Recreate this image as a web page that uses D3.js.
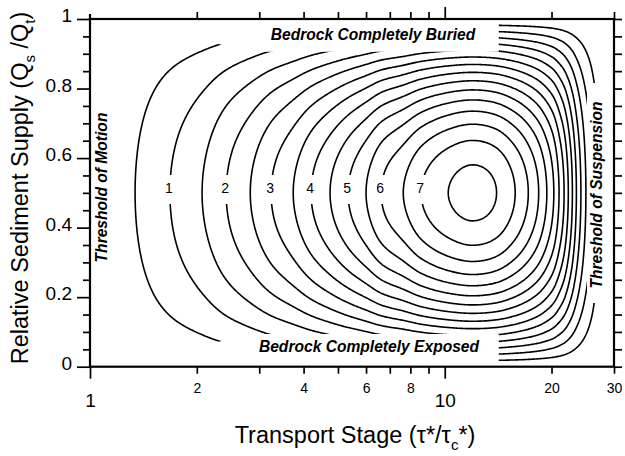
<!DOCTYPE html>
<html>
<head>
<meta charset="utf-8">
<script src="https://cdn.jsdelivr.net/npm/d3@7"></script>
<style>
  html, body { margin: 0; padding: 0; background: #fff; }
  svg { display: block; font-family: "Liberation Sans", Arial, Helvetica, sans-serif; }
</style>
</head>
<body>
<svg id="chart" width="625" height="456"></svg>
<script>
// Erosion-rate contour levels
const contourLevels = [0.5, 1, 1.5, 2, 2.5, 3, 3.5, 4, 4.5, 5, 5.5, 6, 6.5, 7, 7.5];
// Transport stage where each level crosses Qs/Qt = 0.5, below and above the peak
const risingStage  = [1.34, 1.68, 2.07, 2.42, 2.83, 3.24, 3.74, 4.20, 4.75, 5.34, 6.00, 6.62, 7.64, 8.58, 10.23];
const fallingStage = [27.2, 26.0, 25.0, 24.2, 23.5, 22.9, 22.3, 21.7, 21.0, 20.3, 19.4, 18.4, 17.2, 15.8, 14.0];
const labeledLevels = [1, 2, 3, 4, 5, 6, 7];
const thresholdMotion = 1;
const thresholdSuspension = 28.6;
const peakStage = 11.97;
const peakLevel = 7.7;
// Relative erosion factor across sediment supply (bed cover effect)
const supplyKnots = [0, 0.1, 0.2, 0.3, 0.4, 0.5, 0.6, 0.7, 0.8, 0.9, 1];
const coverFactor = [0, 0.36, 0.64, 0.84, 0.96, 1, 0.96, 0.84, 0.64, 0.36, 0];
// Axis ticks
const stageTicks = [1, 2, 3, 4, 5, 6, 7, 8, 9, 10, 20, 30];
const stageMajor = [1, 10];
const stageSmallLabels = [2, 4, 6, 8, 20, 30];
const supplyTicks = [0, 0.05, 0.1, 0.15, 0.2, 0.25, 0.3, 0.35, 0.4, 0.45, 0.5,
                     0.55, 0.6, 0.65, 0.7, 0.75, 0.8, 0.85, 0.9, 0.95, 1];
const supplyLabels = [0, 0.2, 0.4, 0.6, 0.8, 1];

const svg = d3.select("#chart");
const x = d3.scaleLog().domain([1, 30]).range([90, 614]);
const y = d3.scaleLinear().domain([0, 1]).range([366.7, 19]);

// Monotone cubic (Fritsch-Carlson) interpolation through knots
function monotone(xs, ys) {
  const n = xs.length, d = [], m = new Array(n);
  for (let i = 0; i < n - 1; i++) d.push((ys[i + 1] - ys[i]) / (xs[i + 1] - xs[i]));
  m[0] = d[0]; m[n - 1] = d[n - 2];
  for (let i = 1; i < n - 1; i++) m[i] = d[i - 1] * d[i] <= 0 ? 0 : (d[i - 1] + d[i]) / 2;
  for (let i = 0; i < n - 1; i++) {
    if (d[i] === 0) { m[i] = 0; m[i + 1] = 0; continue; }
    const a = m[i] / d[i], b = m[i + 1] / d[i], s = a * a + b * b;
    if (s > 9) { const t = 3 / Math.sqrt(s); m[i] = t * a * d[i]; m[i + 1] = t * b * d[i]; }
  }
  return function (v) {
    if (v <= xs[0]) return ys[0];
    if (v >= xs[n - 1]) return ys[n - 1];
    let i = Math.min(d3.bisectRight(xs, v) - 1, n - 2);
    const h = xs[i + 1] - xs[i], t = (v - xs[i]) / h, t2 = t * t, t3 = t2 * t;
    return (2 * t3 - 3 * t2 + 1) * ys[i] + (t3 - 2 * t2 + t) * h * m[i] +
           (-2 * t3 + 3 * t2) * ys[i + 1] + (t3 - t2) * h * m[i + 1];
  };
}

// Mid-supply erosion profile along log transport stage
const profX = [Math.log10(thresholdMotion)]
  .concat(risingStage.map(Math.log10))
  .concat([Math.log10(peakStage)])
  .concat(fallingStage.slice().reverse().map(Math.log10))
  .concat([Math.log10(thresholdSuspension)]);
const profY = [0].concat(contourLevels).concat([peakLevel])
  .concat(contourLevels.slice().reverse()).concat([0]);
const midProfile = monotone(profX, profY);
const cover = monotone(supplyKnots, coverFactor);

// Field on a regular grid (log stage x supply)
const nx = 480, ny = 320;
const lmin = Math.log10(1), lmax = Math.log10(30);
const values = new Float64Array(nx * ny);
for (let j = 0; j < ny; j++) {
  const c = Math.max(0, cover(j / (ny - 1)));
  for (let i = 0; i < nx; i++) {
    const lt = lmin + (i / (nx - 1)) * (lmax - lmin);
    values[j * nx + i] = Math.max(0, midProfile(lt)) * c;
  }
}
const contours = d3.contours().size([nx, ny]).thresholds(contourLevels)(values);

const toPx = p => [
  x(Math.pow(10, lmin + ((p[0] - 0.5) / (nx - 1)) * (lmax - lmin))),
  y((p[1] - 0.5) / (ny - 1))
];

// Clip region for the computed contours (supply window narrows below stage 14.2)
const splitStage = 14.2;
const lowWindow = [[1, 0.93], [2.3, 0.928], [2.9, 0.906], [splitStage, 0.906]];
const clipPts = lowWindow.map(([t, q]) => [x(t), y(q)])
  .concat([[x(splitStage), y(0.99)], [x(30), y(0.99)], [x(30), y(0.01)], [x(splitStage), y(0.01)]])
  .concat(lowWindow.slice().reverse().map(([t, q]) => [x(t), y(1 - q)]));
svg.append("defs").append("clipPath").attr("id", "field")
  .append("path").attr("d", d3.line()(clipPts) + "Z");

const line = d3.line();
const gC = svg.append("g").attr("clip-path", "url(#field)")
  .attr("fill", "none").attr("stroke", "#000").attr("stroke-width", 1.6)
  .attr("stroke-linejoin", "round");
contours.forEach(cn => {
  cn.coordinates.forEach(poly => {
    poly.forEach(ring => {
      gC.append("path").attr("d", line(ring.map(toPx)) + "Z");
    });
  });
});

// Level labels on the rising side
const labelY = 188;
labeledLevels.forEach(lv => {
  const t = risingStage[contourLevels.indexOf(lv)];
  const cx = x(t) - 1;
  svg.append("rect").attr("x", cx - 6).attr("y", labelY - 13)
    .attr("width", 12).attr("height", 29).attr("fill", "#fff");
  svg.append("text").attr("x", cx).attr("y", labelY + 5)
    .attr("text-anchor", "middle").attr("font-size", 14).text(lv);
});

// Annotations
const ann = { "font-size": 15.6, "font-weight": "bold", "font-style": "italic" };
function annText(sel) {
  Object.entries(ann).forEach(([k, v]) => sel.attr(k, v));
  return sel;
}
annText(svg.append("text")).attr("x", 373).attr("y", 39.5)
  .attr("text-anchor", "middle").text("Bedrock Completely Buried");
annText(svg.append("text")).attr("x", 369).attr("y", 351.5)
  .attr("text-anchor", "middle").text("Bedrock Completely Exposed");
annText(svg.append("text")).attr("transform", "translate(106.5,187.5) rotate(-90)")
  .attr("text-anchor", "middle").text("Threshold of Motion");
svg.append("rect").attr("x", 587).attr("y", 83).attr("width", 22).attr("height", 220)
  .attr("fill", "#fff");
annText(svg.append("text")).attr("transform", "translate(602,195) rotate(-90)")
  .attr("text-anchor", "middle").text("Threshold of Suspension");

// Axes
function styleAxis(g) {
  g.select(".domain").remove();
  g.selectAll(".tick line").attr("stroke", "#000").attr("stroke-width", 1.7);
  g.selectAll("text").attr("fill", "#000").attr("font-family", null);
}
const minorStage = stageTicks.filter(d => !stageMajor.includes(d));

svg.append("g").attr("transform", `translate(0,${y(0)})`)
  .call(d3.axisBottom(x).tickValues(minorStage).tickSize(7)
    .tickFormat(d => stageSmallLabels.includes(d) ? d : ""))
  .call(styleAxis)
  .call(g => g.selectAll("text").attr("font-size", 14).attr("dy", null).attr("y", 26.3));

svg.append("g").attr("transform", `translate(0,${y(0)})`)
  .call(d3.axisBottom(x).tickValues(stageMajor).tickSize(12).tickFormat(d => d))
  .call(styleAxis)
  .call(g => g.selectAll("text").attr("font-size", 19).attr("dy", null).attr("y", 40.3));

svg.append("g").attr("transform", `translate(0,${y(1)})`)
  .call(d3.axisTop(x).tickValues(minorStage).tickSize(7).tickFormat(""))
  .call(styleAxis);
svg.append("g").attr("transform", `translate(0,${y(1)})`)
  .call(d3.axisTop(x).tickValues([10]).tickSize(12).tickFormat(""))
  .call(styleAxis);

const minorSupply = supplyTicks.filter(d => !supplyLabels.some(s => Math.abs(s - d) < 1e-9));
svg.append("g").attr("transform", `translate(${x(1)},0)`)
  .call(d3.axisLeft(y).tickValues(minorSupply).tickSize(7).tickFormat(""))
  .call(styleAxis);
svg.append("g").attr("transform", `translate(${x(1)},0)`)
  .call(d3.axisLeft(y).tickValues(supplyLabels).tickSize(13).tickFormat(d => d))
  .call(styleAxis)
  .call(g => g.selectAll("text").attr("font-size", 19).attr("dy", null)
    .attr("x", -18).attr("y", 2.5));

svg.append("g").attr("transform", `translate(${x(30)},0)`)
  .call(d3.axisRight(y).tickValues(supplyTicks).tickSize(8).tickFormat(""))
  .call(styleAxis);

// Frame
svg.append("rect").attr("x", x(1)).attr("y", y(1))
  .attr("width", x(30) - x(1)).attr("height", y(0) - y(1))
  .attr("fill", "none").attr("stroke", "#000").attr("stroke-width", 2.2);
svg.append("line").attr("x1", x(1)).attr("x2", x(1)).attr("y1", y(1) - 5).attr("y2", y(1))
  .attr("stroke", "#000").attr("stroke-width", 2.2);

// Axis titles
const xt = svg.append("text").attr("x", 355).attr("y", 443)
  .attr("text-anchor", "middle").attr("font-size", 23.5);
xt.append("tspan").text("Transport Stage (τ*/τ");
xt.append("tspan").attr("font-size", 15).attr("dy", 7).text("c");
xt.append("tspan").attr("dy", -7).text("*)");

const yt = svg.append("text").attr("transform", "translate(28,188) rotate(-90)")
  .attr("text-anchor", "middle").attr("font-size", 23.5);
yt.append("tspan").text("Relative Sediment Supply (Q");
yt.append("tspan").attr("font-size", 15).attr("dy", 7).text("s");
yt.append("tspan").attr("dy", -7).text(" /Q");
yt.append("tspan").attr("font-size", 15).attr("dy", 7).text("t");
yt.append("tspan").attr("dy", -7).text(")");
</script>
</body>
</html>
